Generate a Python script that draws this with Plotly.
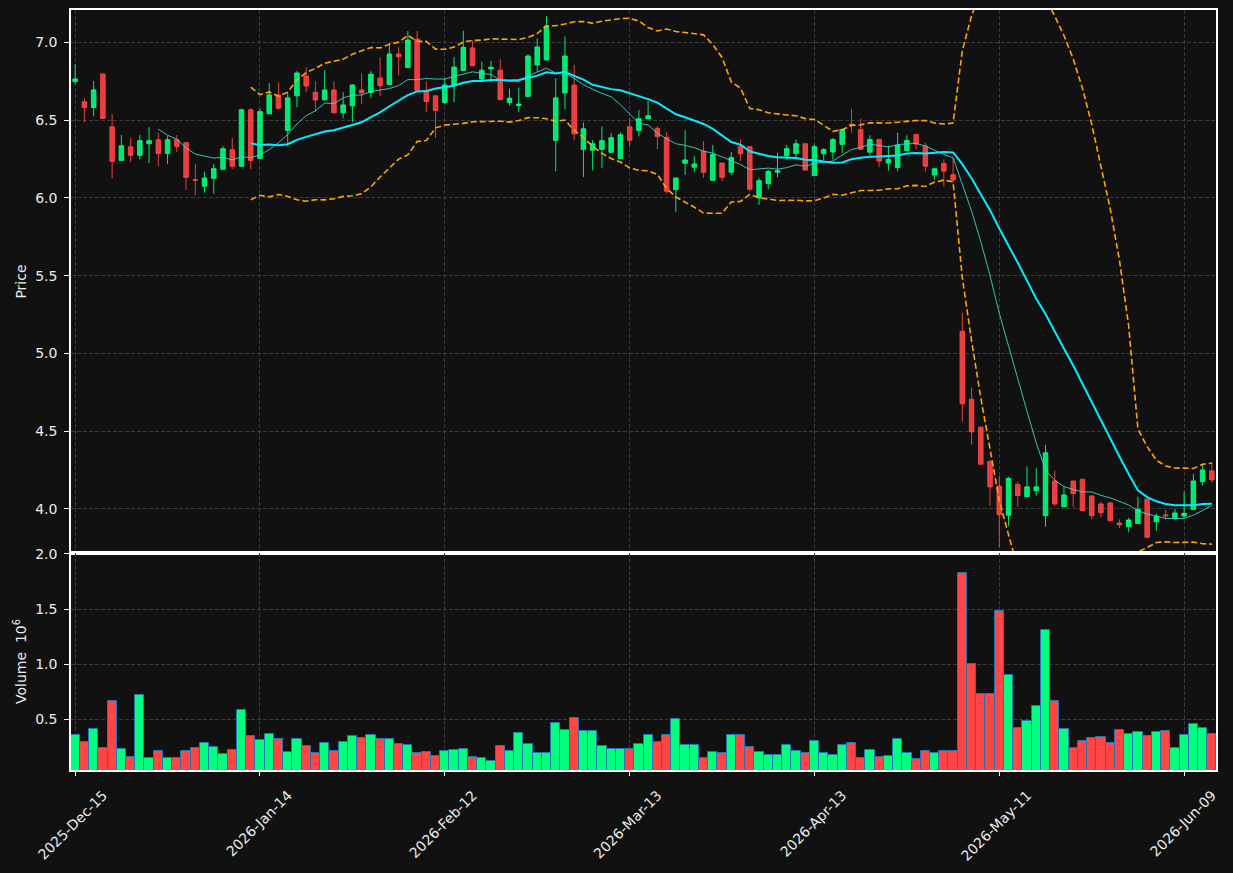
import numpy as np
import pandas as pd
import plotly.graph_objects as go

# ---------------- data ----------------
holidays = ["2025-12-25", "2026-01-01", "2026-01-19", "2026-02-16", "2026-04-03", "2026-05-25"]
dates = [d for d in pd.bdate_range("2025-12-15", "2026-06-12") if d.strftime("%Y-%m-%d") not in holidays]

open_ = [6.748, 6.618, 6.581, 6.797, 6.457, 6.241, 6.329, 6.274, 6.348, 6.374,
         6.286, 6.374, 6.355, 6.117, 6.075, 6.126, 6.184, 6.310, 6.203, 6.566,
         6.254, 6.541, 6.662, 6.434, 6.656, 6.784, 6.679, 6.630, 6.694, 6.547,
         6.592, 6.694, 6.677, 6.771, 6.729, 6.925, 6.838, 7.021, 6.688, 6.656,
         6.613, 6.728, 6.818, 6.964, 6.765, 6.829, 6.821, 6.613, 6.594, 6.652,
         6.855, 6.887, 6.370, 6.675, 6.726, 6.312, 6.306, 6.312, 6.293, 6.254,
         6.457, 6.434, 6.509, 6.447, 6.389, 6.053, 6.222, 6.197, 6.299, 6.113,
         6.224, 6.165, 6.329, 6.329, 6.000, 6.092, 6.165, 6.271, 6.284, 6.348,
         6.143, 6.284, 6.295, 6.344, 6.474, 6.440, 6.294, 6.376, 6.224, 6.196,
         6.305, 6.408, 6.333, 6.147, 6.222, 6.149, 5.142, 4.706, 4.526, 4.307,
         4.147, 3.960, 4.158, 4.079, 4.118, 3.957, 4.180, 4.015, 4.180, 4.191,
         4.084, 4.032, 4.039, 3.910, 3.886, 3.906, 4.064, 3.918, 3.962, 3.944,
         3.955, 3.996, 4.176, 4.245]
high = [6.859, 6.641, 6.752, 6.800, 6.538, 6.404, 6.385, 6.404, 6.455, 6.417,
        6.397, 6.404, 6.357, 6.218, 6.169, 6.218, 6.333, 6.385, 6.573, 6.579,
        6.573, 6.737, 6.744, 6.673, 6.816, 6.840, 6.750, 6.821, 6.750, 6.679,
        6.731, 6.801, 6.814, 6.904, 6.994, 6.968, 7.073, 7.073, 6.750, 6.658,
        6.769, 6.906, 7.075, 7.011, 6.876, 6.882, 6.891, 6.703, 6.709, 6.923,
        7.026, 7.169, 6.769, 7.038, 6.855, 6.485, 6.372, 6.459, 6.417, 6.423,
        6.513, 6.566, 6.624, 6.459, 6.423, 6.130, 6.436, 6.269, 6.365, 6.340,
        6.226, 6.295, 6.376, 6.331, 6.128, 6.182, 6.291, 6.340, 6.374, 6.350,
        6.342, 6.321, 6.385, 6.444, 6.573, 6.509, 6.402, 6.378, 6.333, 6.419,
        6.402, 6.410, 6.354, 6.194, 6.247, 6.258, 5.262, 4.781, 4.530, 4.309,
        4.213, 4.207, 4.176, 4.273, 4.262, 4.412, 4.245, 4.144, 4.182, 4.193,
        4.086, 4.047, 4.047, 3.933, 3.944, 4.079, 4.066, 3.972, 3.994, 4.000,
        4.113, 4.225, 4.285, 4.303]
low = [6.731, 6.487, 6.524, 6.509, 6.126, 6.235, 6.231, 6.248, 6.224, 6.205,
       6.218, 6.295, 6.051, 6.019, 6.032, 6.026, 6.182, 6.186, 6.201, 6.186,
       6.252, 6.539, 6.568, 6.331, 6.583, 6.679, 6.556, 6.628, 6.545, 6.513,
       6.487, 6.603, 6.641, 6.654, 6.727, 6.788, 6.836, 6.690, 6.551, 6.385,
       6.603, 6.615, 6.816, 6.848, 6.754, 6.744, 6.630, 6.594, 6.551, 6.650,
       6.812, 6.885, 6.171, 6.571, 6.370, 6.135, 6.177, 6.194, 6.291, 6.252,
       6.329, 6.395, 6.507, 6.314, 6.028, 5.910, 6.147, 6.165, 6.128, 6.111,
       6.107, 6.147, 6.237, 6.043, 5.955, 6.058, 6.132, 6.244, 6.246, 6.177,
       6.141, 6.244, 6.246, 6.290, 6.419, 6.310, 6.273, 6.198, 6.175, 6.170,
       6.303, 6.312, 6.168, 6.115, 6.072, 6.098, 4.560, 4.414, 4.284, 4.020,
       3.753, 3.892, 4.013, 4.077, 4.086, 3.886, 4.021, 4.013, 4.011, 3.987,
       3.936, 3.946, 3.923, 3.876, 3.850, 3.904, 3.816, 3.860, 3.931, 3.929,
       3.940, 3.994, 4.150, 4.170]
close = [6.765, 6.581, 6.694, 6.511, 6.235, 6.335, 6.274, 6.368, 6.368, 6.286,
         6.374, 6.331, 6.132, 6.113, 6.128, 6.188, 6.316, 6.203, 6.566, 6.241,
         6.555, 6.662, 6.577, 6.643, 6.803, 6.720, 6.630, 6.694, 6.547, 6.598,
         6.726, 6.675, 6.795, 6.722, 6.925, 6.908, 7.015, 6.692, 6.620, 6.562,
         6.726, 6.841, 6.968, 6.850, 6.821, 6.840, 6.632, 6.641, 6.603, 6.912,
         6.970, 7.105, 6.643, 6.912, 6.412, 6.444, 6.348, 6.368, 6.387, 6.406,
         6.370, 6.509, 6.528, 6.395, 6.043, 6.128, 6.244, 6.218, 6.165, 6.278,
         6.132, 6.259, 6.284, 6.056, 6.111, 6.169, 6.175, 6.316, 6.348, 6.179,
         6.329, 6.310, 6.375, 6.440, 6.466, 6.312, 6.376, 6.237, 6.247, 6.337,
         6.369, 6.346, 6.204, 6.187, 6.172, 6.115, 4.676, 4.496, 4.288, 4.142,
         3.963, 4.196, 4.087, 4.142, 4.142, 4.361, 4.032, 4.090, 4.099, 3.989,
         3.957, 3.976, 3.925, 3.899, 3.929, 3.998, 3.818, 3.951, 3.956, 3.974,
         3.972, 4.180, 4.251, 4.187]
volume_m = [0.355, 0.291, 0.409, 0.236, 0.664, 0.227, 0.155, 0.718, 0.145, 0.209,
            0.145, 0.145, 0.209, 0.236, 0.282, 0.245, 0.182, 0.218, 0.582, 0.345,
            0.309, 0.364, 0.318, 0.200, 0.318, 0.255, 0.191, 0.282, 0.209, 0.291,
            0.345, 0.327, 0.355, 0.318, 0.318, 0.273, 0.264, 0.191, 0.200, 0.164,
            0.209, 0.218, 0.227, 0.155, 0.145, 0.118, 0.255, 0.209, 0.373, 0.273,
            0.191, 0.191, 0.464, 0.400, 0.509, 0.391, 0.391, 0.255, 0.227, 0.227,
            0.227, 0.273, 0.355, 0.291, 0.355, 0.500, 0.264, 0.264, 0.145, 0.200,
            0.191, 0.355, 0.355, 0.245, 0.200, 0.173, 0.173, 0.264, 0.209, 0.191,
            0.300, 0.191, 0.173, 0.264, 0.282, 0.145, 0.218, 0.155, 0.164, 0.318,
            0.191, 0.136, 0.209, 0.191, 0.209, 0.209, 1.827, 1.000, 0.727, 0.727,
            1.482, 0.900, 0.418, 0.482, 0.618, 1.309, 0.664, 0.409, 0.236, 0.300,
            0.327, 0.336, 0.282, 0.400, 0.364, 0.382, 0.345, 0.382, 0.391, 0.236,
            0.355, 0.455, 0.418, 0.364]

tick_every = 20
price_ticks = [4.0, 4.5, 5.0, 5.5, 6.0, 6.5, 7.0]
volume_ticks = [0.5, 1.0, 1.5, 2.0]

# ---------------- derived ----------------
idx = list(range(len(close)))
s = pd.Series(close)
ma10 = s.rolling(10).mean()
ma20 = s.rolling(20).mean()
sd20 = s.rolling(20).std(ddof=0)
bb_up = ma20 + 2 * sd20
bb_lo = ma20 - 2 * sd20

tick_idx = idx[::tick_every]
tick_txt = [dates[i].strftime("%Y-%b-%d") for i in tick_idx]

UP = "#00ff7f"
DN = "#ff4545"
vol_colors = [UP if c >= o else DN for o, c in zip(open_, close)]

BG = "#111111"
GRID = "#3a3a3a"
FONT = dict(family="DejaVu Sans", size=14, color="#ececec")

fig = go.Figure()
fig.add_trace(go.Candlestick(
    x=idx, open=open_, high=high, low=low, close=close,
    increasing=dict(line=dict(color="rgba(0,255,127,0.9)", width=1), fillcolor="rgba(0,255,127,0.9)"),
    decreasing=dict(line=dict(color="rgba(255,69,69,0.9)", width=1), fillcolor="rgba(255,69,69,0.9)"),
    whiskerwidth=0, xaxis="x", yaxis="y", showlegend=False))
fig.add_trace(go.Scatter(x=idx, y=ma10, mode="lines",
                         line=dict(color="rgba(64,224,208,0.85)", width=1), xaxis="x", yaxis="y", showlegend=False))
fig.add_trace(go.Scatter(x=idx, y=ma20, mode="lines",
                         line=dict(color="#00eeff", width=2), xaxis="x", yaxis="y", showlegend=False))
for band in (bb_up, bb_lo):
    fig.add_trace(go.Scatter(x=idx, y=band, mode="lines",
                             line=dict(color="#ffa500", width=1.6, dash="6px,3px"),
                             xaxis="x", yaxis="y", showlegend=False))
fig.add_trace(go.Bar(x=idx, y=volume_m, width=1.0,
                     marker=dict(color=vol_colors, line=dict(color="#1f77b4", width=1)),
                     xaxis="x2", yaxis="y2", showlegend=False))

split = (770 - 553) / 760.0
common_x = dict(range=[-0.45, 123.45], tickmode="array", tickvals=tick_idx,
                showgrid=True, gridcolor=GRID, griddash="4px,2px", gridwidth=1,
                showline=True, linecolor="white", linewidth=1.5, mirror=True,
                zeroline=False, tickfont=FONT, automargin=False)
common_y = dict(showgrid=True, gridcolor=GRID, griddash="4px,2px", gridwidth=1,
                showline=True, linecolor="white", linewidth=1.5, mirror=True,
                zeroline=False, ticks="outside", ticklen=5, tickcolor="white",
                tickfont=FONT, ticklabelstandoff=4, automargin=False)

fig.update_layout(
    width=1233, height=873,
    margin=dict(l=71, r=17, t=10, b=103, autoexpand=False),
    paper_bgcolor=BG, plot_bgcolor=BG,
    font=FONT,
    bargap=0,
    xaxis=dict(common_x, anchor="y", showticklabels=False, ticks="",
               rangeslider=dict(visible=False)),
    xaxis2=dict(common_x, anchor="y2", matches="x", ticktext=tick_txt, tickangle=-45,
                ticks="outside", ticklen=4, tickcolor="white",
                ticklabelshift=28, ticklabelstandoff=6),
    yaxis=dict(common_y, domain=[split, 1], range=[3.717, 7.208],
               tickvals=price_ticks, ticktext=[f"{v:.1f}" for v in price_ticks],
               title=dict(text="Price", font=FONT, standoff=5)),
    yaxis2=dict(common_y, domain=[0, split], range=[0.039, 2.009],
                tickvals=volume_ticks, ticktext=[f"{v:.1f}" for v in volume_ticks],
                title=dict(text="Volume  10<sup>6</sup>", font=FONT, standoff=5)),
)

fig.write_html("out.html")
